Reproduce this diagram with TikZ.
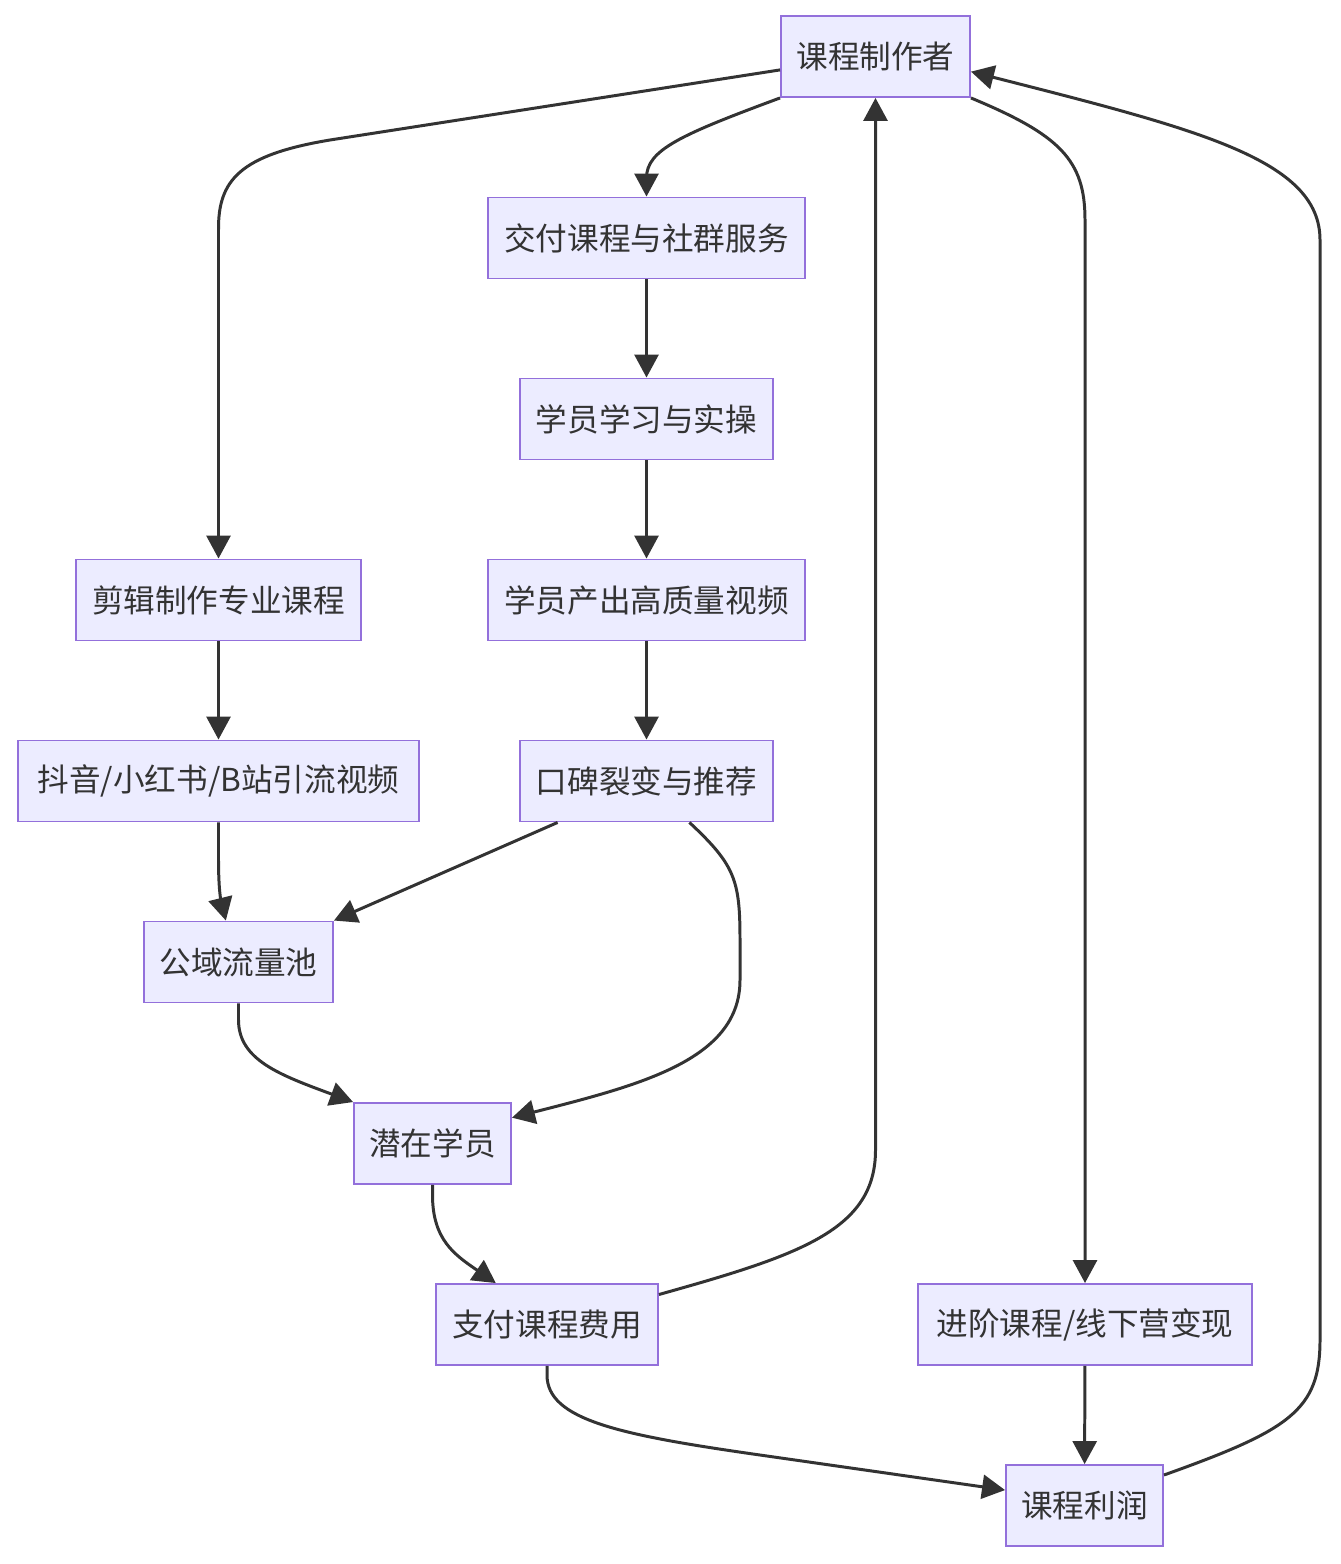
\documentclass[tikz,border=0pt]{standalone}
\usepackage{fontspec}
\newfontfamily\cjk{Noto Sans CJK SC}
\usetikzlibrary{arrows.meta}
\definecolor{boxfill}{HTML}{ECECFF}
\definecolor{boxline}{HTML}{9370DB}
\definecolor{ink}{HTML}{333333}

\begin{document}
\begin{tikzpicture}[x=0.02cm,y=-0.02cm,
  box/.style={draw=boxline,fill=boxfill,line width=1.1pt,text=ink,
    font=\cjk\fontsize{18}{22}\selectfont,minimum height=1.62cm,inner sep=0pt},
  flow/.style={draw=ink,line width=1.7pt,-{Triangle[length=0.46cm,width=0.48cm]}}]
  \useasboundingbox (0,0) rectangle (1340,1564);
  % boxes
  \node[box,minimum width=3.78cm] (kczz) at (875.5,56.5) {课程制作者};
  \node[box,minimum width=6.34cm] (jfkc) at (646.5,238) {交付课程与社群服务};
  \node[box,minimum width=5.06cm] (xxsc) at (646.5,419) {学员学习与实操};
  \node[box,minimum width=6.34cm] (sp) at (646.5,600) {学员产出高质量视频};
  \node[box,minimum width=5.06cm] (kb) at (646.5,781) {口碑裂变与推荐};
  \node[box,minimum width=5.70cm] (jj) at (218.5,600) {剪辑制作专业课程};
  \node[box,minimum width=8.02cm] (yl) at (218.5,781) {抖音/小红书/B站引流视频};
  \node[box,minimum width=3.78cm] (gy) at (238.5,962) {公域流量池};
  \node[box,minimum width=3.14cm] (qz) at (432.5,1143.5) {潜在学员};
  \node[box,minimum width=4.44cm] (zf) at (547,1324.5) {支付课程费用};
  \node[box,minimum width=6.68cm] (jjbx) at (1085,1324.5) {进阶课程/线下营变现};
  \node[box,minimum width=3.14cm] (lr) at (1084.5,1505.5) {课程利润};
  % connectors
  \draw[flow] (kczz.188) -- (330,140) .. controls (240,155) and (218,180) .. (218.5,230) -- (jj.north);
  \draw[flow] (kczz.south west) .. controls (680,135) and (646.5,150) .. (646.5,178) -- (jfkc.north);
  \draw[flow] (kczz.south east) .. controls (1060,135) and (1085,160) .. (1085,220) -- (jjbx.north);
  \draw[flow] (jfkc) -- (xxsc);
  \draw[flow] (xxsc) -- (sp);
  \draw[flow] (sp) -- (kb);
  \draw[flow] (jj) -- (yl);
  \draw[flow] (yl.south) -- (218.5,860) .. controls (218.5,895) and (222,905) .. (gy.107);
  \draw[flow] (kb.205) -- (gy.north east);
  \draw[flow] (kb.-44) .. controls (735,865) and (740,880) .. (740,940) -- (740,980)
    .. controls (740,1060) and (640,1085) .. (qz.18);
  \draw[flow] (gy.south) -- (238.5,1020) .. controls (238.5,1060) and (280,1075) .. (qz.north west);
  \draw[flow] (qz.south) -- (432.5,1195) .. controls (432.5,1240) and (455,1255) .. (zf.141);
  \draw[flow] (zf.15) .. controls (800,1255) and (875.5,1230) .. (875.5,1150) -- (kczz.south);
  \draw[flow] (zf.south) -- (547,1375) .. controls (547,1420) and (620,1435) .. (760,1455) -- (lr.169);
  \draw[flow] (jjbx) -- (lr);
  \draw[flow] (lr.21) .. controls (1290,1430) and (1320,1410) .. (1320,1340) -- (1320,240)
    .. controls (1320,160) and (1200,130) .. (kczz.-9);
\end{tikzpicture}
\end{document}
